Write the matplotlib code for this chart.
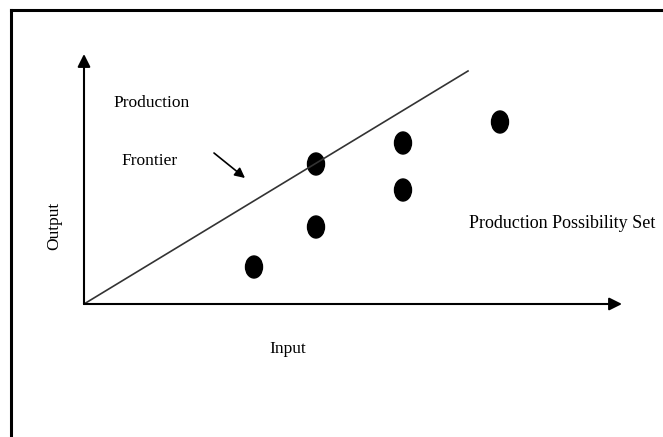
import matplotlib.pyplot as plt
from matplotlib.patches import Ellipse

# production units (input, output)
inputs = [17.0, 23.2, 23.2, 31.9, 31.9, 41.6]
outputs = [3.7, 7.7, 14.0, 11.4, 16.1, 18.2]

# frontier through origin
frontier_x = [0, 38.4]
frontier_y = [0, 23.3]

plt.rcParams['font.family'] = ['Liberation Serif', 'DejaVu Serif']

fig = plt.figure(figsize=(6.63, 4.37), dpi=100)
ax = fig.add_axes([0, 0, 1, 1])
ax.set_xlim(-8.4, 57.9)
ax.set_ylim(-13.3, 30.4)
ax.axis('off')

# border around the figure (only top and left visible)
fig.add_artist(plt.Line2D([11/663, 1], [1 - 10/437, 1 - 10/437], color='black', lw=2.2))
fig.add_artist(plt.Line2D([11/663, 11/663], [0, 1 - 10/437], color='black', lw=2.2))

# axes with arrows
arrow = dict(arrowstyle='-|>', color='black', lw=1.5, mutation_scale=19, shrinkA=0, shrinkB=0)
ax.annotate('', xy=(53.8, 0), xytext=(0, 0), arrowprops=arrow)
ax.annotate('', xy=(0, 25.0), xytext=(0, 0), arrowprops=arrow)

# frontier
ax.plot(frontier_x, frontier_y, color='#333333', lw=1.2)

# points
for x, y in zip(inputs, outputs):
    ax.add_patch(Ellipse((x, y), 1.7, 2.2, color='black'))

# pointer to frontier
ax.annotate('', xy=(16.1, 12.6), xytext=(13.0, 15.1),
            arrowprops=dict(arrowstyle='-|>', color='black', lw=1.2, mutation_scale=15,
                            shrinkA=0, shrinkB=0))

fs = 12.5
ax.text(2.9, 20.1, 'Production', fontsize=fs, va='center', ha='left')
ax.text(3.7, 14.3, 'Frontier', fontsize=fs, va='center', ha='left')
ax.text(38.5, 8.0, 'Production Possibility Set', fontsize=13, va='center', ha='left')
ax.text(20.4, -4.5, 'Input', fontsize=fs, va='center', ha='center')
ax.text(-3.0, 7.8, 'Output', fontsize=fs, va='center', ha='center', rotation=90)

fig.savefig('out.png', dpi=100)
